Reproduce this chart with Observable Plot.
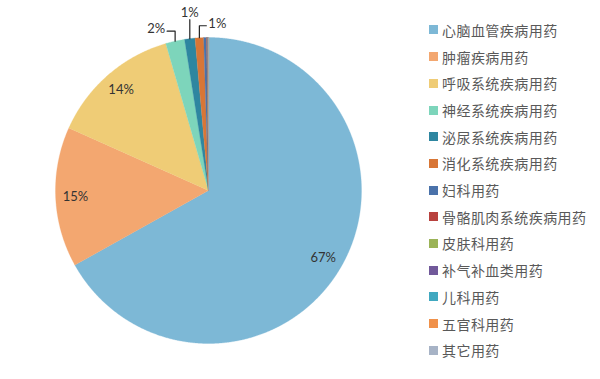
<!DOCTYPE html>
<html><head><meta charset="utf-8">
<script src="https://cdn.jsdelivr.net/npm/d3@7"></script>
<script src="https://cdn.jsdelivr.net/npm/@observablehq/plot@0.6"></script>
<style>
body{margin:0;background:#fff;}
#wrap{position:relative;width:600px;height:379px;overflow:hidden;background:#fff;}
#chart{position:absolute;left:0;top:0;}
#legend{position:absolute;left:429px;top:16.6px;font-family:"Noto Sans CJK SC",sans-serif;font-size:14px;color:#595959;letter-spacing:0.45px;}
.row{height:26.7px;display:flex;align-items:center;white-space:nowrap;}
.sw{width:9px;height:9px;margin-right:4px;flex:none;}
</style></head><body>
<div id="wrap"><div id="chart"></div><div id="legend"></div></div>
<script>
// ---- data ----
const categories = ["心脑血管疾病用药","肿瘤疾病用药","呼吸系统疾病用药","神经系统疾病用药","泌尿系统疾病用药","消化系统疾病用药","妇科用药","骨骼肌肉系统疾病用药","皮肤科用药","补气补血类用药","儿科用药","五官科用药","其它用药"];
const values = [66.9, 14.8, 13.8, 2.0, 1.1, 0.9, 0.3, 0.05, 0.05, 0.04, 0.03, 0.02, 0.01];
const valueLabels = ["67%","15%","14%","2%","1%","1%","","","","","","",""];
const colors = ["#7db8d6","#f3a770","#efcc76","#7dd5bb","#2e86a0","#d87636","#4a72aa","#b8413e","#9bb357","#71599a","#40a8c0","#f0914a","#a7b3c6"];

// ---- layout ----
const W = 420, H = 379, cx = 208, cy = 190, R = 153;
// outside labels: index, rise above edge, horizontal run, text anchor
const outside = [
  {i: 3, rise: 10, run: -8, anchor: "end"},
  {i: 4, rise: 19, run: 0, anchor: "middle"},
  {i: 5, rise: 12, run: 7, anchor: "start"}
];

const total = d3.sum(values);
let acc = 0;
const slices = values.map((v, i) => {
  const a0 = acc / total * 2 * Math.PI; acc += v;
  const a1 = acc / total * 2 * Math.PI;
  return {name: categories[i], i, a0, a1, mid: (a0 + a1) / 2};
});
const pt = (a, r) => [cx + r * Math.sin(a), cy - r * Math.cos(a)];

const pts = [];
for (const s of slices) {
  const [x0, y0] = [cx, cy];
  pts.push({name: s.name, x: x0, y: y0});
  const n = Math.max(2, Math.ceil((s.a1 - s.a0) / 0.005));
  for (let k = 0; k <= n; k++) {
    const a = s.a0 + (s.a1 - s.a0) * k / n;
    const [x, y] = pt(a, R);
    pts.push({name: s.name, x, y});
  }
}

const outsideSet = new Set(outside.map(o => o.i));
const inLabels = slices.filter(s => valueLabels[s.i] && !outsideSet.has(s.i)).map(s => {
  const [x, y] = pt(s.mid, R * 0.87);
  return {x, y, text: valueLabels[s.i]};
});
const leaders = [];
const outLabels = [];
for (const o of outside) {
  const s = slices[o.i];
  const [ex, ey] = pt(s.mid, R);
  const elY = ey - o.rise;
  leaders.push({k: o.i, x: ex, y: ey});
  leaders.push({k: o.i, x: ex, y: elY});
  leaders.push({k: o.i, x: ex + o.run, y: elY});
  const tx = ex + o.run + (o.anchor === "end" ? -2 : o.anchor === "start" ? 2 : 0);
  const ty = o.anchor === "middle" ? elY - 7 : elY - 2;
  outLabels.push({x: tx, y: ty, text: valueLabels[o.i], anchor: o.anchor});
}

const chart = Plot.plot({
  width: W, height: H, margin: 0,
  x: {domain: [0, W], range: [0, W], axis: null},
  y: {domain: [0, H], range: [0, H], axis: null},
  color: {domain: categories, range: colors},
  marks: [
    Plot.line(pts, {x: "x", y: "y", z: "name", fill: "name", stroke: "name", strokeWidth: 0.3, curve: "linear-closed"}),
    Plot.line(leaders, {x: "x", y: "y", z: "k", stroke: "#222", strokeWidth: 1.2}),
    Plot.text(inLabels, {x: "x", y: "y", text: "text", fontSize: 13, fill: "#333", fontFamily: "Lato"}),
    ...["end","middle","start"].map(an => Plot.text(outLabels.filter(d => d.anchor === an), {x: "x", y: "y", text: "text", textAnchor: an, fontSize: 13, fill: "#333", fontFamily: "Lato"}))
  ]
});
document.getElementById("chart").appendChild(chart);

const leg = document.getElementById("legend");
categories.forEach((c, i) => {
  const row = document.createElement("div"); row.className = "row";
  const sw = document.createElement("span"); sw.className = "sw"; sw.style.background = colors[i];
  const t = document.createElement("span"); t.textContent = c;
  row.appendChild(sw); row.appendChild(t); leg.appendChild(row);
});
</script>
</body></html>
